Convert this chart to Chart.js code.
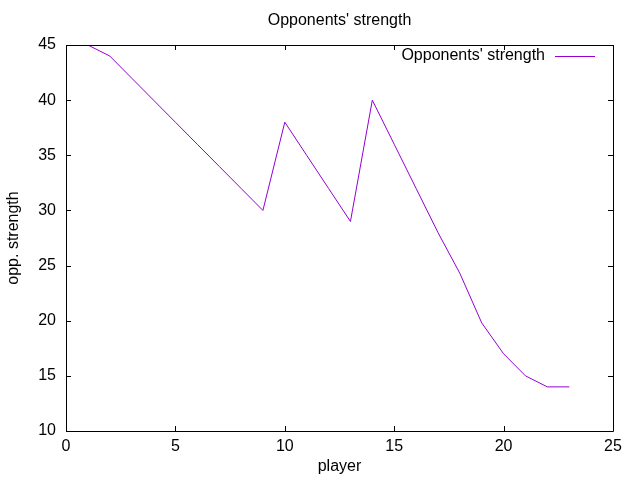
<!DOCTYPE html>
<html>
<head>
<meta charset="utf-8">
<script src="https://cdn.jsdelivr.net/npm/chart.js@4/dist/chart.umd.min.js"></script>
<style>
  html, body { margin: 0; padding: 0; background: #fff; }
  #wrap { width: 640px; height: 480px; }
</style>
</head>
<body>
<div id="wrap"><canvas id="grafica"></canvas></div>
<script>
// datos
const jugadores = [1, 2, 3, 4, 5, 6, 7, 8, 9, 10, 11, 12, 13, 14, 15, 16, 17, 18, 19, 20, 21, 22, 23];
const fuerza = [45, 44, 42, 40, 38, 36, 34, 32, 30, 38, 35, 32, 29, 40, 36, 32, 28, 24.3, 19.8, 17, 15, 14, 14];
const ticksX = [0, 5, 10, 15, 20, 25];
const ticksY = [10, 15, 20, 25, 30, 35, 40, 45];

const titulo = "Opponents' strength";
const fuente = "'Liberation Sans', Arial, sans-serif";
const colorLinea = "#9400d3";

Chart.defaults.font.family = fuente;
Chart.defaults.font.size = 16;
Chart.defaults.color = "#000";

// marco, ticks hacia dentro, titulo y leyenda al estilo gnuplot
const marcoGnuplot = {
    id: "marcoGnuplot",
    afterDraw(chart) {
        const ctx = chart.ctx;
        const a = chart.chartArea;
        const sx = chart.scales.x;
        const sy = chart.scales.y;
        ctx.save();
        ctx.strokeStyle = "#000";
        ctx.lineWidth = 1;
        ctx.beginPath();
        ctx.rect(Math.round(a.left) + 0.5, Math.round(a.top) + 0.5,
            Math.round(a.right - a.left), Math.round(a.bottom - a.top));
        ctx.stroke();

        const t = 5;
        ctx.beginPath();
        ticksX.forEach(v => {
            const px = Math.round(sx.getPixelForValue(v)) + 0.5;
            ctx.moveTo(px, a.bottom); ctx.lineTo(px, a.bottom - t);
            ctx.moveTo(px, a.top); ctx.lineTo(px, a.top + t);
        });
        ticksY.forEach(v => {
            const py = Math.round(sy.getPixelForValue(v)) + 0.5;
            ctx.moveTo(a.left, py); ctx.lineTo(a.left + t, py);
            ctx.moveTo(a.right, py); ctx.lineTo(a.right - t, py);
        });
        ctx.stroke();

        // titulo
        ctx.fillStyle = "#000";
        ctx.font = "16px " + fuente;
        ctx.textAlign = "center";
        ctx.textBaseline = "middle";
        ctx.fillText(titulo, (a.left + a.right) / 2, 21);

        // leyenda
        const ds = chart.data.datasets[0];
        ctx.textAlign = "right";
        ctx.fillText(ds.label, 545, 56);
        ctx.strokeStyle = ds.borderColor;
        ctx.beginPath();
        ctx.moveTo(555, 56.5);
        ctx.lineTo(595, 56.5);
        ctx.stroke();
        ctx.restore();
    }
};

const datos = {
    labels: jugadores,
    datasets: [{
        label: titulo,
        data: jugadores.map((j, i) => ({ x: j, y: fuerza[i] })),
        borderColor: colorLinea,
        borderWidth: 1,
        pointRadius: 0,
        tension: 0,
        fill: false,
    }],
};

const config = {
    type: "line",
    data: datos,
    options: {
        responsive: false,
        animation: false,
        layout: { padding: { left: 0, right: 27, top: 45, bottom: 0 } },
        plugins: {
            legend: { display: false },
            title: { display: false },
            tooltip: { enabled: false },
        },
        scales: {
            x: {
                type: "linear",
                min: 0,
                max: 25,
                afterBuildTicks: s => { s.ticks = ticksX.map(v => ({ value: v })); },
                afterFit: s => { s.height = 49; },
                grid: { display: false, drawTicks: false },
                border: { display: false },
                ticks: { padding: 6, maxRotation: 0 },
                title: { display: true, text: "player", padding: { top: 0, bottom: 4 } },
            },
            y: {
                type: "linear",
                min: 10,
                max: 45,
                afterBuildTicks: s => { s.ticks = ticksY.map(v => ({ value: v })); },
                afterFit: s => { s.width = 66; },
                grid: { display: false, drawTicks: false },
                border: { display: false },
                ticks: { padding: 10 },
                title: { display: true, text: "opp. strength", padding: { top: 4, bottom: 0 } },
            },
        },
    },
    plugins: [marcoGnuplot],
};

const canvas = document.getElementById("grafica");
canvas.width = 640;
canvas.height = 480;
const miGrafica = new Chart(canvas, config);
</script>
</body>
</html>
